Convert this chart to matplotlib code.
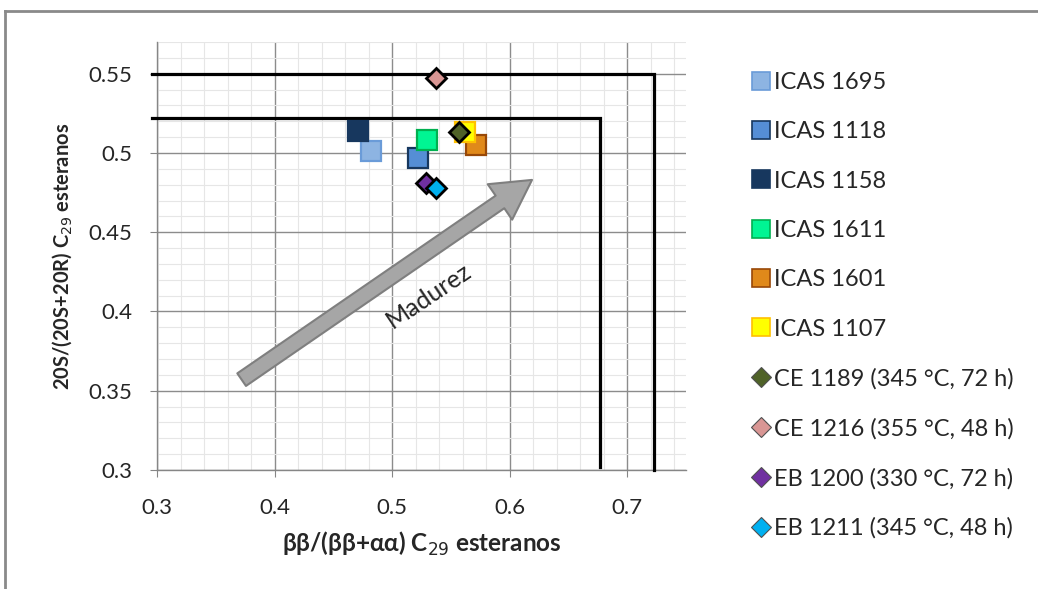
import matplotlib
matplotlib.use("Agg")
import matplotlib.pyplot as plt
from matplotlib.lines import Line2D
from matplotlib.patches import FancyArrowPatch
from matplotlib.ticker import MultipleLocator, FuncFormatter

plt.rcParams['font.family'] = ['Lato', 'DejaVu Sans']

# ---- data ----
square_labels = ['ICAS 1695', 'ICAS 1118', 'ICAS 1158', 'ICAS 1611', 'ICAS 1601', 'ICAS 1107']
square_x = [0.482, 0.522, 0.471, 0.530, 0.571, 0.562]
square_y = [0.501, 0.497, 0.514, 0.508, 0.505, 0.513]
square_face = ['#8DB4E2', '#558ED5', '#17375E', '#00F593', '#E0891A', '#FFFF00']
square_edge = ['#6A9BD8', '#17375E', '#17375E', '#00B050', '#984807', '#FFC000']

diamond_labels = ['CE 1189 (345 °C, 72 h)', 'CE 1216 (355 °C, 48 h)',
                  'EB 1200 (330 °C, 72 h)', 'EB 1211 (345 °C, 48 h)']
diamond_x = [0.557, 0.537, 0.529, 0.537]
diamond_y = [0.513, 0.547, 0.481, 0.478]
diamond_face = ['#4F6228', '#D99694', '#7030A0', '#00B0F0']

# threshold boxes: (x_end, y_level, y_bottom)
box_x_start = 0.2958
box_x_end = [0.7227, 0.677]
box_y_level = [0.550, 0.522]
box_y_bottom = [0.300, 0.302]

arrow_start = (0.372, 0.357)
arrow_end = (0.619, 0.483)

fig = plt.figure(figsize=(10.38, 5.89), dpi=100)
ax = fig.add_axes([157/1038, 1-470/589, 529/1038, 428/589])

ax.set_xlim(0.3, 0.75)
ax.set_ylim(0.3, 0.57)
ax.xaxis.set_major_locator(MultipleLocator(0.1))
ax.xaxis.set_minor_locator(MultipleLocator(0.02))
ax.yaxis.set_major_locator(MultipleLocator(0.05))
ax.yaxis.set_minor_locator(MultipleLocator(0.01))
fmt = FuncFormatter(lambda v, p: ('%.2f' % v).rstrip('0').rstrip('.'))
ax.xaxis.set_major_formatter(fmt)
ax.yaxis.set_major_formatter(fmt)

ax.grid(which='major', color='#8C8C8C', linewidth=1.0, zorder=0)
ax.grid(which='minor', color='#E6E6E6', linewidth=0.8, zorder=0)
ax.set_axisbelow(True)
for s in ['top', 'right']:
    ax.spines[s].set_visible(False)
for s in ['left', 'bottom']:
    ax.spines[s].set_color('#868686')
    ax.spines[s].set_linewidth(1.0)
ax.tick_params(which='major', direction='out', length=5, color='#868686',
               labelsize=16, labelcolor='#262626')
ax.tick_params(axis='x', which='major', pad=15)
ax.tick_params(axis='y', which='major', pad=13)
ax.tick_params(which='minor', length=0)

# threshold lines
for xe, yl, yb in zip(box_x_end, box_y_level, box_y_bottom):
    ax.plot([box_x_start, xe, xe], [yl, yl, yb], color='black', lw=2.3,
            clip_on=False, zorder=3, solid_joinstyle='miter')

# arrow
arr = FancyArrowPatch(arrow_start, arrow_end,
                      arrowstyle='simple,head_length=28,head_width=31,tail_width=11',
                      mutation_scale=1, shrinkA=0, shrinkB=0,
                      facecolor='#A6A6A6', edgecolor='#7F7F7F', lw=1.5, zorder=2)
ax.add_patch(arr)
ax.text(0.531, 0.410, 'Madurez', rotation=34, rotation_mode='anchor',
        ha='center', va='center', fontsize=18, color='#262626', zorder=4)

handles = []
for lab, x, y, fc, ec in zip(square_labels, square_x, square_y, square_face, square_edge):
    ax.plot([x], [y], marker='s', markersize=14.5, markerfacecolor=fc,
            markeredgecolor=ec, markeredgewidth=1.6, linestyle='none', zorder=5)
    handles.append(Line2D([], [], marker='s', markersize=13, markerfacecolor=fc,
                          markeredgecolor=ec, markeredgewidth=1.2, linestyle='none', label=lab))
for lab, x, y, fc in zip(diamond_labels, diamond_x, diamond_y, diamond_face):
    ax.plot([x], [y], marker='D', markersize=10.5, markerfacecolor=fc,
            markeredgecolor='black', markeredgewidth=2.0, linestyle='none', zorder=6)
    handles.append(Line2D([], [], marker='D', markersize=10, markerfacecolor=fc,
                          markeredgecolor='#505050', markeredgewidth=0.8, linestyle='none', label=lab))

ax.set_xlabel(r'ββ/(ββ+αα) C$_{29}$ esteranos', fontsize=17.5, fontweight='bold',
              color='#262626', labelpad=9)
ax.set_ylabel(r'20S/(20S+20R) C$_{29}$ esteranos', fontsize=14.5, fontweight='bold',
              color='#262626', labelpad=10)

leg = fig.legend(handles=handles, loc='upper left', bbox_to_anchor=(752/1038, 1-72/589),
                 frameon=False, fontsize=17, handlelength=0.8, handletextpad=0.15,
                 labelspacing=1.2, borderaxespad=0, borderpad=0)
for t in leg.get_texts():
    t.set_color('#262626')

# figure frame
fig.add_artist(Line2D([5/1038, 5/1038], [0, 1-11/589], color='#8A8A8A', lw=2.0,
                      transform=fig.transFigure))
fig.add_artist(Line2D([5/1038, 1.0], [1-11/589, 1-11/589], color='#8A8A8A', lw=2.0,
                      transform=fig.transFigure))

fig.savefig('out.png', dpi=100)
